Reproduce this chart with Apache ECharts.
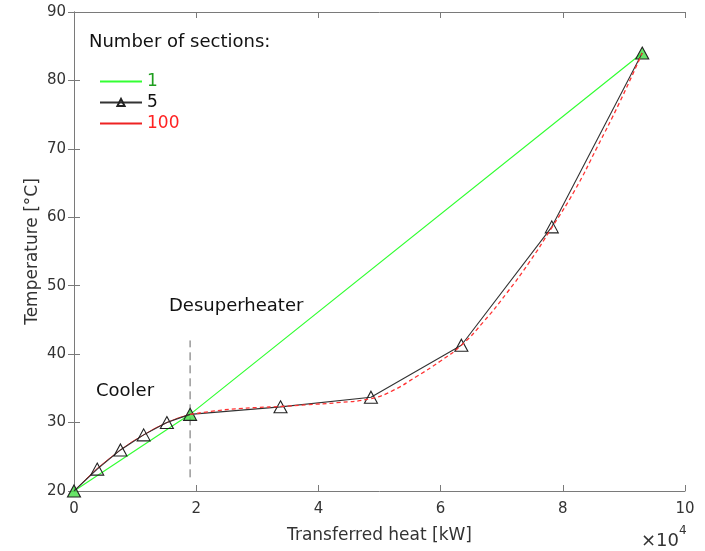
<!DOCTYPE html>
<html><head><meta charset="utf-8">
<script src="https://cdn.jsdelivr.net/npm/echarts@6/dist/echarts.min.js"></script>
<style>html,body{margin:0;padding:0;background:#fff}#c{width:705px;height:551px}</style>
</head><body><div id="c"></div>
<script>
// Transferred heat in units of 1e4 kW, temperature in °C
const xTicks = [0, 2, 4, 6, 8, 10];
const yTicks = [20, 30, 40, 50, 60, 70, 80, 90];
const oneX = [0, 1.9, 9.3];
const oneY = [20, 31.2, 84.0];
const fiveX = [0, 0.38, 0.76, 1.14, 1.52, 1.9, 3.38, 4.86, 6.34, 7.82, 9.3];
const fiveY = [20, 23.2, 26.0, 28.2, 30.0, 31.2, 32.3, 33.7, 41.3, 58.6, 84.0];
const coolerX = [0, 0.19, 0.38, 0.57, 0.76, 0.95, 1.14, 1.33, 1.52, 1.71, 1.9];
const coolerY = [20, 21.7, 23.3, 24.7, 26.0, 27.2, 28.2, 29.2, 30.0, 30.7, 31.2];
const desupX = [1.9, 2.3, 2.64, 3.0, 3.38, 3.8, 4.3, 4.86, 5.2, 5.6, 6.0, 6.34, 6.7, 7.08, 7.45, 7.82, 8.2, 8.56, 8.93, 9.3];
const desupY = [31.2, 31.7, 32.0, 32.2, 32.35, 32.6, 32.9, 33.5, 34.6, 36.7, 39.0, 41.3, 44.7, 48.9, 53.4, 58.5, 64.0, 70.2, 76.8, 84.0];
const dividerX = [1.9, 1.9];
const dividerY = [22, 42];

const zip = (xs, ys) => xs.map((x, i) => [x, ys[i]]);
const axisColor = '#7a7a7a';
const labelColor = '#333';
const sans = 'DejaVu Sans';
const clear = 'rgba(0,0,0,0)';

const chart = echarts.init(document.getElementById('c'), null, {renderer: 'canvas'});
const baseX = {
  type: 'value', min: xTicks[0], max: xTicks[xTicks.length - 1], interval: 2,
  axisLine: {show: true, lineStyle: {color: axisColor, width: 1}},
  axisTick: {show: true, inside: true, length: 6, lineStyle: {color: axisColor}},
  splitLine: {show: false}
};
const baseY = {
  type: 'value', min: yTicks[0], max: yTicks[yTicks.length - 1], interval: 10,
  axisLine: {show: true, lineStyle: {color: axisColor, width: 1}},
  axisTick: {show: true, inside: true, length: 6, lineStyle: {color: axisColor}},
  splitLine: {show: false}
};
chart.setOption({
  animation: false,
  backgroundColor: '#fff',
  grid: {left: 74, right: 20, top: 12, bottom: 60, containLabel: false},
  xAxis: [
    Object.assign({}, baseX, {
      position: 'bottom',
      axisLabel: {color: labelColor, fontSize: 15, fontFamily: sans, margin: 11},
      name: 'Transferred heat [kW]', nameLocation: 'middle', nameGap: 36, nameMoveOverlap: false,
      nameTextStyle: {color: labelColor, fontSize: 17, fontFamily: sans}
    }),
    Object.assign({}, baseX, {position: 'top', axisLabel: {show: false}})
  ],
  yAxis: [
    Object.assign({}, baseY, {
      position: 'left',
      axisLabel: {color: labelColor, fontSize: 15, fontFamily: sans, margin: 8},
      name: 'Temperature [°C]', nameLocation: 'middle', nameGap: 33, nameMoveOverlap: false,
      nameTextStyle: {color: labelColor, fontSize: 17, fontFamily: sans}
    }),
    Object.assign({}, baseY, {position: 'right', axisLabel: {show: false}})
  ],
  legend: {
    orient: 'vertical', left: 99, top: 73, padding: 0,
    itemWidth: 42, itemHeight: 9, itemGap: 4,
    textStyle: {fontSize: 17, fontFamily: sans},
    data: [
      {name: '1', itemStyle: {color: clear, borderColor: clear, borderWidth: 0}, textStyle: {color: '#1f9e1f'}},
      {name: '5', textStyle: {color: '#111'}},
      {name: '100', itemStyle: {color: clear, borderColor: clear, borderWidth: 0}, textStyle: {color: '#ff2222'}}
    ]
  },
  graphic: [
    {type: 'text', left: 89, top: 33, style: {text: 'Number of sections:', font: '18px "DejaVu Sans"', fill: '#111'}},
    {type: 'text', left: 169, top: 297, style: {text: 'Desuperheater', font: '18px "DejaVu Sans"', fill: '#111'}},
    {type: 'text', left: 96, top: 382, style: {text: 'Cooler', font: '18px "DejaVu Sans"', fill: '#111'}},
    {type: 'text', x: 679, y: 541, style: {text: '×10', font: '18px "DejaVu Sans"', fill: labelColor, align: 'right', verticalAlign: 'middle'}},
    {type: 'text', x: 679, y: 537, style: {text: '4', font: '12px "DejaVu Sans"', fill: labelColor, align: 'left', verticalAlign: 'bottom'}}
  ],
  series: [
    {
      name: 'divider', type: 'line', data: zip(dividerX, dividerY), symbol: 'none',
      lineStyle: {color: '#666', width: 1, type: [8, 5]}, z: 1, silent: true
    },
    {
      name: '1', type: 'line', data: zip(oneX, oneY), symbol: 'none',
      lineStyle: {color: '#33ff33', width: 1.2}, itemStyle: {color: '#33ff33'}, z: 2
    },
    {
      name: 'markers1', type: 'scatter', data: zip(oneX, oneY), symbol: 'triangle', symbolSize: [13, 12],
      itemStyle: {color: '#44dd44'}, z: 3, silent: true
    },
    {
      name: '100', type: 'line', data: zip(coolerX, coolerY), symbol: 'none', smooth: false,
      lineStyle: {color: '#ee2222', width: 1}, itemStyle: {color: '#ee2222'}, z: 4
    },
    {
      name: '5', type: 'line', data: zip(fiveX, fiveY), symbol: 'triangle', symbolSize: [13, 12],
      showAllSymbol: true,
      lineStyle: {color: '#333', width: 1.1},
      itemStyle: {color: clear, borderColor: '#222', borderWidth: 1.1}, z: 5
    },
    {
      name: '100', type: 'line', data: zip(desupX, desupY), symbol: 'none', smooth: true,
      lineStyle: {color: '#ff3333', width: 1.3, type: [4, 3]}, itemStyle: {color: '#ff3333'}, z: 6
    }
  ]
});
</script>
</body></html>
